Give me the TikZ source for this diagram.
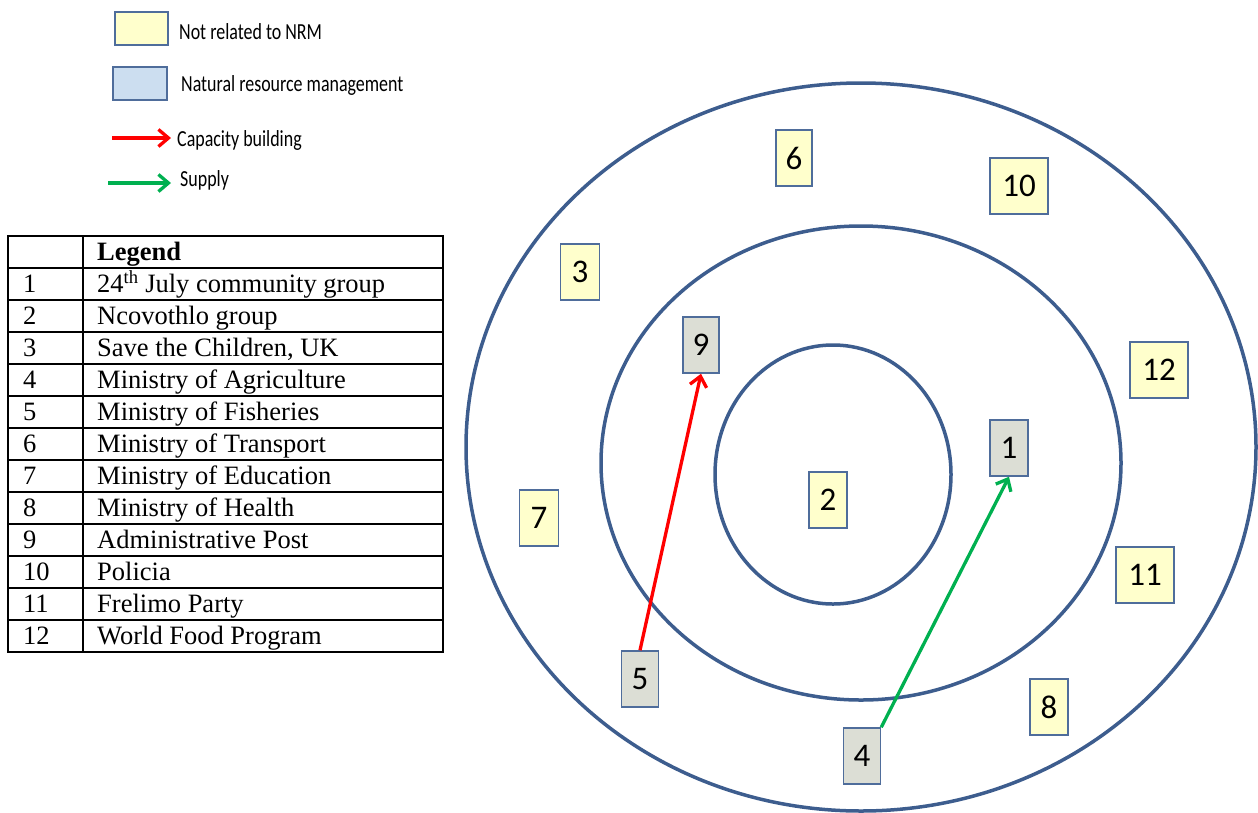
\documentclass[tikz,border=0pt]{standalone}
\usepackage{fontspec}
\setmainfont{Liberation Serif}
\newfontfamily\boxfont{Carlito}
\newfontfamily\legfont[FakeStretch=0.78]{Carlito}
\usetikzlibrary{arrows.meta}
\definecolor{yel}{HTML}{FFFFCC}
\definecolor{blu}{HTML}{CCDEF0}
\definecolor{gry}{HTML}{DCDED5}
\definecolor{edge}{HTML}{4F6D9B}
\definecolor{ring}{HTML}{3D5D8E}
\definecolor{redarr}{HTML}{FF0000}
\definecolor{grnarr}{HTML}{00B050}
\tikzset{
  nbox/.style={draw=edge, line width=1.5pt, minimum height=56pt, inner sep=0pt,
    font=\boxfont\fontsize{33}{33}\selectfont},
  ybox/.style={nbox, fill=yel},
  gbox/.style={nbox, fill=gry},
  ringline/.style={draw=ring, line width=3.5pt},
  arr/.style={line width=3.3pt, -{Straight Barb[length=10pt,width=17pt,line width=3.3pt]}},
  legtxt/.style={anchor=west, inner sep=0pt, font=\legfont\fontsize{23}{23}\selectfont},
  tabtxt/.style={anchor=base west, inner sep=0pt, font=\fontsize{26.5}{26.5}\selectfont},
  tabline/.style={line width=1.6pt, black}
}
\begin{document}
\begin{tikzpicture}[x=1pt,y=-1pt]
\useasboundingbox (0,0) rectangle (1258,812);
% rings
\draw[ringline] (861,447) ellipse [x radius=395pt, y radius=364pt];
\draw[ringline] (861,463) ellipse [x radius=260pt, y radius=237pt];
\draw[ringline] (833,474.5) ellipse [x radius=118pt, y radius=129.5pt];
% boxes
\node[ybox, minimum width=36pt] (b6) at (794,158) {6};
\node[ybox, minimum width=58pt] (b10) at (1019,186) {10};
\node[ybox, minimum width=39pt] (b3) at (580,272) {3};
\node[gbox, minimum width=36pt] (b9) at (701,345) {9};
\node[ybox, minimum width=58pt] (b12) at (1159,370) {12};
\node[gbox, minimum width=38pt] (b1) at (1009,448) {1};
\node[ybox, minimum width=38pt] (b2) at (828,500) {2};
\node[ybox, minimum width=39pt] (b7) at (539,518) {7};
\node[ybox, minimum width=58pt] (b11) at (1145,575) {11};
\node[gbox, minimum width=37pt] (b5) at (640,679) {5};
\node[ybox, minimum width=38pt] (b8) at (1049,707) {8};
\node[gbox, minimum width=37pt] (b4) at (862,756) {4};
% connectors
\draw[arr, redarr] (b5.north) -- (b9.south);
\draw[arr, grnarr] (b4.north east) -- (b1.south);
% top legend
\node[draw=edge, line width=1.5pt, fill=yel, minimum width=53pt, minimum height=33pt, inner sep=0pt] (ly) at (141.5,28.5) {};
\node[legtxt] (lyt) at (179,32) {Not related to NRM};
\node[draw=edge, line width=1.5pt, fill=blu, minimum width=54pt, minimum height=33pt, inner sep=0pt] (lb) at (140,83.5) {};
\node[legtxt] (lbt) at (181,85) {Natural resource management};
\coordinate (ra) at (112,138);
\coordinate (rb) at (171,138);
\draw[arr, redarr] (ra) -- (rb);
\node[legtxt] (lrt) at (177,140) {Capacity building};
\coordinate (ga) at (108,183);
\coordinate (gb) at (171,183);
\draw[arr, grnarr] (ga) -- (gb);
\node[legtxt] (lgt) at (180,180) {Supply};
% table
\draw[tabline] (8,236) rectangle (443,652);
\draw[tabline] (83,236) -- (83,652);
\foreach \i in {1,...,12} {
  \draw[tabline] (8,236+32*\i) -- (443,236+32*\i);
}
\node[tabtxt, font=\bfseries\fontsize{26.5}{26.5}\selectfont] (th) at (97,260.7) {Legend};
\foreach \n/\t in {1/{24\textsuperscript{th} July community group},
  2/{Ncovothlo group},
  3/{Save the Children, UK},
  4/{Ministry of Agriculture},
  5/{Ministry of Fisheries},
  6/{Ministry of Transport},
  7/{Ministry of Education},
  8/{Ministry of Health},
  9/{Administrative Post},
  10/{Policia},
  11/{Frelimo Party},
  12/{World Food Program}} {
  \node[tabtxt] (n\n) at (23,260.7+32*\n) {\n};
  \node[tabtxt] (t\n) at (97,260.7+32*\n) {\t};
}
\end{tikzpicture}
\end{document}
